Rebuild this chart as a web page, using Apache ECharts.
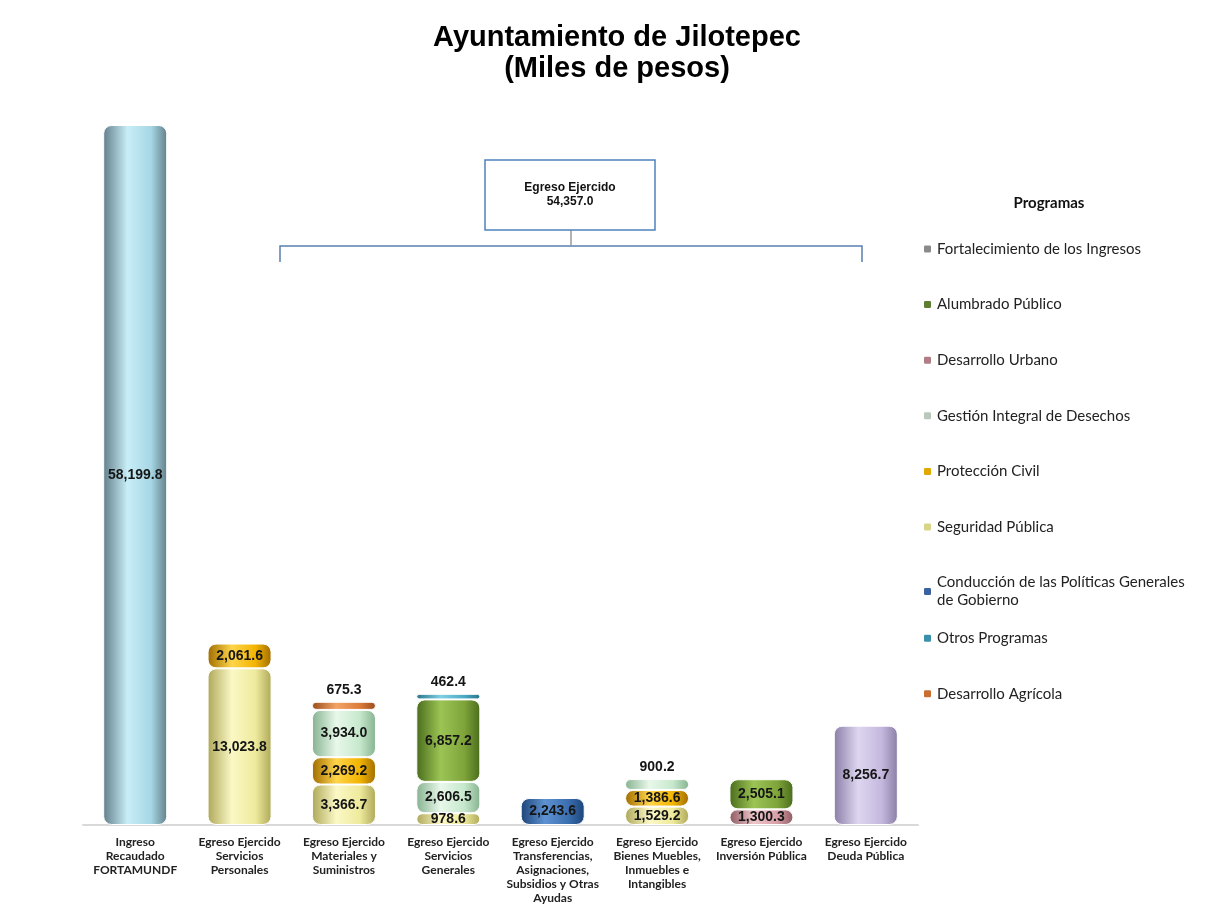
<!DOCTYPE html>
<html>
<head>
<meta charset="utf-8">
<title>Ayuntamiento de Jilotepec</title>
<script src="https://cdn.jsdelivr.net/npm/echarts@6/dist/echarts.min.js"></script>
<style>
	html, body { margin: 0; padding: 0; background: #fff; }
	#chart { width: 1207px; height: 905px; }
</style>
</head>
<body>
<div id="chart"></div>
<script>
// categorias (con saltos de linea como en el original)
var categorias = [
	'Ingreso\nRecaudado\nFORTAMUNDF',
	'Egreso Ejercido\nServicios\nPersonales',
	'Egreso Ejercido\nMateriales y\nSuministros',
	'Egreso Ejercido\nServicios\nGenerales',
	'Egreso Ejercido\nTransferencias,\nAsignaciones,\nSubsidios y Otras\nAyudas',
	'Egreso Ejercido\nBienes Muebles,\nInmuebles e\nIntangibles',
	'Egreso Ejercido\nInversión Pública',
	'Egreso Ejercido\nDeuda Pública'
];

// valores por programa (miles de pesos)
var ingresoRecaudado   = [58199.8, null, null, null, null, null, null, null];
var seguridadPublica   = [null, 13023.8, 3366.7, 978.6, null, 1529.2, null, null];
var desarrolloUrbano   = [null, null, null, null, null, null, 1300.3, null];
var proteccionCivil    = [null, 2061.6, 2269.2, null, null, 1386.6, null, null];
var gestionDesechos    = [null, null, 3934.0, 2606.5, null, 900.2, null, null];
var alumbradoPublico   = [null, null, null, 6857.2, null, null, 2505.1, null];
var conduccionPoliticas = [null, null, null, null, 2243.6, null, null, null];
var otrosProgramas     = [null, null, null, 462.4, null, null, null, null];
var desarrolloAgricola = [null, null, 675.3, null, null, null, null, null];
var fortalecimiento    = [null, null, null, null, null, null, null, null];
var deudaPublica       = [null, null, null, null, null, null, null, 8256.7];

var programas = [
	'Fortalecimiento de los Ingresos',
	'Alumbrado Público',
	'Desarrollo Urbano',
	'Gestión Integral de Desechos',
	'Protección Civil',
	'Seguridad Pública',
	'Conducción de las Políticas Generales de Gobierno',
	'Otros Programas',
	'Desarrollo Agrícola'
];

var chart = echarts.init(document.getElementById('chart'));

// cilindro: degradado horizontal
function cilindro(borde, claro, medio) {
	return new echarts.graphic.LinearGradient(0, 0, 1, 0, [
		{ offset: 0, color: borde },
		{ offset: 0.38, color: claro },
		{ offset: 0.75, color: medio },
		{ offset: 1, color: borde }
	]);
}

function fmt(v) {
	return Number(v).toLocaleString('en-US', { minimumFractionDigits: 1, maximumFractionDigits: 1 });
}

var iconos = {};

function serie(nombre, valores, borde, claro, medio) {
	iconos[nombre] = medio;
	return {
		name: nombre,
		type: 'bar',
		stack: 'total',
		barWidth: 64,
		itemStyle: {
			color: cilindro(borde, claro, medio),
			borderRadius: 8,
			borderColor: '#ffffff',
			borderWidth: 1
		},
		label: {
			show: true,
			formatter: function(p) { return fmt(p.value); },
			fontFamily: 'Liberation Sans, Arial, sans-serif',
			fontWeight: 'bold',
			fontSize: 14,
			color: '#151515'
		},
		data: valores.map(function(v) {
			if (v == null) return null;
			return { value: v, label: { position: v < 950 ? 'top' : 'inside' } };
		})
	};
}

var series = [
	serie('Ingreso Recaudado', ingresoRecaudado, '#627f8a', '#c8eef8', '#a6d6e4'),
	serie('Seguridad Pública', seguridadPublica, '#aea858', '#fbf8c6', '#eeea9c'),
	serie('Desarrollo Urbano', desarrolloUrbano, '#8e5a62', '#eec6ca', '#d8a0a8'),
	serie('Protección Civil', proteccionCivil, '#a06c00', '#ffd54a', '#f2b400'),
	serie('Gestión Integral de Desechos', gestionDesechos, '#86b290', '#e8f8ea', '#c6e8cc'),
	serie('Alumbrado Público', alumbradoPublico, '#4a6c1c', '#9cc454', '#7ea43a'),
	serie('Conducción de las Políticas Generales de Gobierno', conduccionPoliticas, '#1c4478', '#5e92d2', '#3a6eae'),
	serie('Otros Programas', otrosProgramas, '#287488', '#80d0e4', '#4aaac4'),
	serie('Desarrollo Agrícola', desarrolloAgricola, '#9a4c1c', '#f2a466', '#dc7c3a'),
	serie('Fortalecimiento de los Ingresos', fortalecimiento, '#5a5a5a', '#bcbcbc', '#949494'),
	serie('Deuda Pública', deudaPublica, '#8a7ea6', '#ded6f0', '#c4b8de')
];

// colores de icono un poco mas oscuros como en el original
iconos['Fortalecimiento de los Ingresos'] = '#8a8a8a';
iconos['Alumbrado Público'] = '#5e7e34';
iconos['Desarrollo Urbano'] = '#b07c86';
iconos['Gestión Integral de Desechos'] = '#b8c8bc';
iconos['Protección Civil'] = '#e0a800';
iconos['Seguridad Pública'] = '#d8d48a';
iconos['Conducción de las Políticas Generales de Gobierno'] = '#3a62a0';
iconos['Otros Programas'] = '#3a90aa';
iconos['Desarrollo Agrícola'] = '#c86e30';

// total del egreso = suma de todas las categorias de egreso
var totalEgreso = 0;
series.forEach(function(s, i) {
	if (i === 0) return;
	s.data.forEach(function(d) { if (d) totalEgreso += d.value; });
});

// una leyenda por programa para mantener el espaciado uniforme
var leyendas = programas.map(function(nombre, i) {
	return {
		orient: 'vertical',
		left: 917,
		top: 235 + i * 55.6,
		data: [{ name: nombre, itemStyle: { color: iconos[nombre] } }],
		itemWidth: 9,
		itemHeight: 9,
		itemGap: 0,
		selectedMode: false,
		formatter: function(n) {
			return n === 'Conducción de las Políticas Generales de Gobierno'
				? 'Conducción de las Políticas Generales\nde Gobierno' : n;
		},
		textStyle: {
			fontFamily: 'Lato, Noto Sans, sans-serif',
			fontSize: 15,
			lineHeight: 18,
			color: '#222'
		}
	};
});

chart.setOption({
	animation: false,
	title: [{
		text: 'Ayuntamiento de Jilotepec\n(Miles de pesos)',
		left: 612,
		top: 17,
		textAlign: 'center',
		textStyle: {
			fontFamily: 'Liberation Sans, Arial, sans-serif',
			fontWeight: 'bold',
			fontSize: 29,
			lineHeight: 31,
			color: '#000'
		}
	}, {
		text: 'Programas',
		left: 1044,
		top: 191,
		textAlign: 'center',
		textStyle: {
			fontFamily: 'Lato, Noto Sans, sans-serif',
			fontWeight: 'bold',
			fontSize: 15,
			color: '#111'
		}
	}],
	legend: leyendas,
	grid: {
		left: 83,
		right: 289,
		top: 125,
		bottom: 80,
		containLabel: false
	},
	xAxis: {
		type: 'category',
		data: categorias,
		axisTick: { show: false },
		axisLine: { lineStyle: { color: '#d9d9d9', width: 2 } },
		axisLabel: {
			interval: 0,
			margin: 10,
			fontFamily: 'Lato, Noto Sans, sans-serif',
			fontWeight: 'bold',
			fontSize: 12,
			lineHeight: 14,
			color: '#222'
		}
	},
	yAxis: {
		type: 'value',
		min: 0,
		max: 'dataMax',
		show: false,
		splitLine: { show: false }
	},
	graphic: [
		{
			type: 'rect',
			shape: { x: 485, y: 160, width: 170, height: 70 },
			style: { fill: '#fff', stroke: '#4f81bd', lineWidth: 1.5 }
		},
		{
			type: 'text',
			x: 570,
			y: 195,
			style: {
				text: 'Egreso Ejercido\n' + fmt(totalEgreso),
				fontFamily: 'Liberation Sans Narrow, Arial Narrow, Liberation Sans, sans-serif',
				fontWeight: 'bold',
				fontSize: 12,
				lineHeight: 14,
				fill: '#111',
				align: 'center',
				verticalAlign: 'middle'
			}
		},
		{
			type: 'line',
			shape: { x1: 571, y1: 230, x2: 571, y2: 245 },
			style: { stroke: '#7f7f7f', lineWidth: 1.2 }
		},
		{
			type: 'polyline',
			shape: { points: [[280, 262], [280, 246], [862, 246], [862, 262]] },
			style: { stroke: '#5b7fb0', lineWidth: 1.5, fill: null }
		}
	],
	series: series
});
</script>
</body>
</html>
